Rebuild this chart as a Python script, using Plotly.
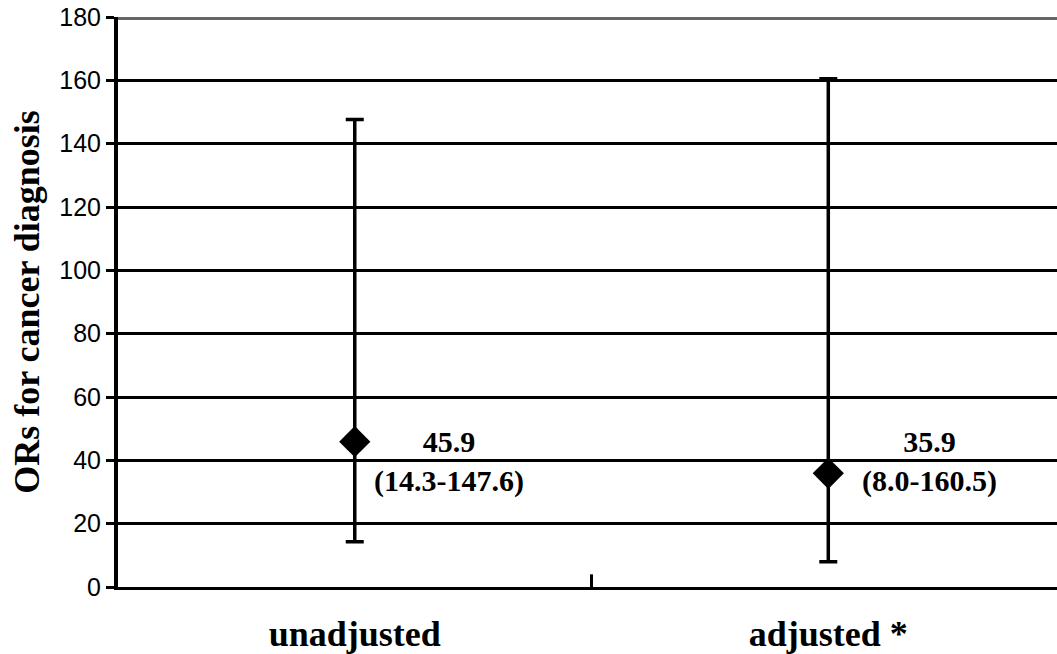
import plotly.graph_objects as go

categories = ["unadjusted", "adjusted *"]
odds_ratio = [45.9, 35.9]
ci_low = [14.3, 8.0]
ci_high = [147.6, 160.5]
y_ticks = [0, 20, 40, 60, 80, 100, 120, 140, 160, 180]

err_plus = [h - v for h, v in zip(ci_high, odds_ratio)]
err_minus = [v - l for v, l in zip(odds_ratio, ci_low)]
xs = list(range(len(categories)))

fig = go.Figure()
fig.add_trace(go.Scatter(
    x=xs, y=odds_ratio, mode="markers",
    marker=dict(symbol="diamond", size=24, color="black"),
    error_y=dict(type="data", symmetric=False, array=err_plus, arrayminus=err_minus,
                 color="black", thickness=3.5, width=9),
    showlegend=False, cliponaxis=False,
))

label_y = 39.5
label_shift = [94, 101]
for i, (v, l, h) in enumerate(zip(odds_ratio, ci_low, ci_high)):
    fig.add_annotation(
        x=xs[i], y=label_y, xref="x", yref="y", xshift=label_shift[i],
        text=f"{v:.1f}<br>({l:.1f}-{h:.1f})", showarrow=False,
        font=dict(family="Liberation Serif", size=30, color="black", weight="bold"),
        align="center",
    )

serif = dict(family="Liberation Serif", size=36, color="black", weight="bold")

fig.update_layout(
    width=1057, height=654,
    margin=dict(l=118, r=0, t=17, b=67),
    plot_bgcolor="white", paper_bgcolor="white",
    xaxis=dict(
        range=[-0.5, 1.483], tickvals=xs, ticktext=categories,
        tickfont=serif, showgrid=False, zeroline=False,
        showline=True, linecolor="black", linewidth=3,
        ticks="", ticklabelstandoff=13, automargin=False,
        ticklabeloverflow="allow",
    ),
    yaxis=dict(
        range=[0, 180], tickvals=y_ticks,
        tickfont=dict(family="Liberation Sans", size=25, color="black"),
        showgrid=True, gridcolor="black", gridwidth=2.5,
        zeroline=False, showline=True, linecolor="black", linewidth=4,
        ticks="outside", ticklen=8, tickwidth=3, tickcolor="black",
        automargin=False, ticklabeloverflow="allow",
        title=dict(text="ORs for cancer diagnosis", font=serif, standoff=10),
    ),
)

# grey frame line at the top of the plot area
fig.add_hline(y=180, line=dict(color="#666", width=6))

# category boundary tick on the x axis
fig.add_trace(go.Scatter(
    x=[0.5, 0.5], y=[-2, 4], mode="lines", line=dict(color="black", width=3),
    showlegend=False, cliponaxis=False, hoverinfo="skip",
))

fig.write_html(
    "out.html",
    config={"displayModeBar": False},
    post_script="document.body.style.margin='0';document.body.style.overflow='hidden';",
)
